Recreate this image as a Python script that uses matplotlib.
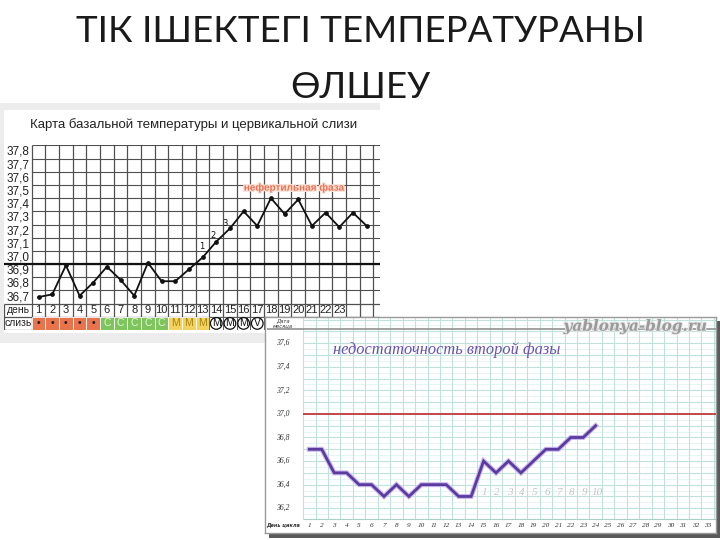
import matplotlib
matplotlib.use('Agg')
import matplotlib.pyplot as plt
import matplotlib.patheffects as pe
from matplotlib.patches import Rectangle

W, H = 720, 540

# chart 1 data (basal temperature + cervical mucus)
days1 = list(range(1, 26))
temps1 = [36.70, 36.72, 36.94, 36.71, 36.81, 36.93, 36.83, 36.71, 36.96, 36.82,
          36.82, 36.91, 37.00, 37.12, 37.22, 37.35, 37.24, 37.45, 37.33, 37.44,
          37.24, 37.34, 37.23, 37.34, 37.24]
ylabels1 = ['37,8', '37,7', '37,6', '37,5', '37,4', '37,3', '37,2', '37,1',
            '37,0', '36,9', '36,8', '36,7']
day_labels1 = [str(d) for d in range(1, 24)]
mucus_marks = ['•'] * 5 + ['С'] * 5 + ['М'] * 3 + ['M', 'M', 'M', 'V']
mucus_kind = ['b'] * 5 + ['c'] * 5 + ['m'] * 3 + ['o'] * 4

# chart 2 data (second phase insufficiency)
days2 = list(range(1, 25))
temps2 = [36.7, 36.7, 36.5, 36.5, 36.4, 36.4, 36.3, 36.4, 36.3, 36.4, 36.4, 36.4,
          36.3, 36.3, 36.6, 36.5, 36.6, 36.5, 36.6, 36.7, 36.7, 36.8, 36.8, 36.9]
ylabels2 = ['37,6', '37,4', '37,2', '37,0', '36,8', '36,6', '36,4', '36,2']
yvals2 = [37.6, 37.4, 37.2, 37.0, 36.8, 36.6, 36.4, 36.2]
phase_nums = [str(i) for i in range(1, 11)]


def box(x0, y0, x1, y1):
    return [x0 / W, 1 - y1 / H, (x1 - x0) / W, (y1 - y0) / H]


fig = plt.figure(figsize=(7.2, 5.4), dpi=100)
fig.patch.set_facecolor('white')

# slide title
title_font = ['Lato', 'Noto Sans', 'DejaVu Sans']
fig.text(360 / W, 1 - 32 / H, 'ТІК ІШЕКТЕГІ ТЕМПЕРАТУРАНЫ', ha='center', va='center',
         fontsize=26.5, color='#1a1a1a', family=title_font)
fig.text(360 / W, 1 - 87 / H, 'ӨЛШЕУ', ha='center', va='center',
         fontsize=26.5, color='#1a1a1a', family=title_font)

# ---- chart 1 image background
fig.add_artist(Rectangle((0, 1 - 343 / H), 380 / W, 240 / H, transform=fig.transFigure,
                         facecolor='#ececec', edgecolor='none', zorder=0.2))
fig.add_artist(Rectangle((4 / W, 1 - 333 / H), 376 / W, 223 / H, transform=fig.transFigure,
                         facecolor='white', edgecolor='none', zorder=0.3))
fig.text(194 / W, 1 - 125 / H, 'Карта базальной температуры и цервикальной слизи',
         ha='center', va='center', fontsize=9.5, color='#222222',
         family='Liberation Sans', zorder=3)

ax1 = fig.add_axes(box(4, 145.4, 380, 330))
ax1.set_zorder(1)
ax1.set_xlim(-1.53, 25.98)
ax1.set_ylim(36.45, 37.85)
ax1.axis('off')

gc = '#505050'
# temperature grid
for k in range(26):
    ax1.vlines(k + 0.5, 36.45, 37.85, color=gc, lw=0.9)
for j in range(15):
    yv = 36.45 + j * 0.1
    if j <= 2:
        ax1.hlines(yv, -1.53, 25.98, color=gc, lw=0.9)
    else:
        ax1.hlines(yv, 0.5, 25.98, color=gc, lw=0.8)
ax1.hlines(36.95, -1.53, 25.98, color='#111111', lw=1.6)
ax1.vlines(-1.5, 36.45, 36.65, color=gc, lw=0.9)

for i, lab in enumerate(ylabels1):
    ax1.text(-0.5, 37.8 - i * 0.1, lab, ha='center', va='center', fontsize=8.5,
             color='#222222', family='Liberation Sans')

ax1.text(-0.5, 36.6, 'день', ha='center', va='center', fontsize=7.5, color='#222222',
         family='Liberation Sans')
ax1.text(-0.5, 36.5, 'слизь', ha='center', va='center', fontsize=7.5, color='#222222',
         family='Liberation Sans')
for d, lab in zip(range(1, 24), day_labels1):
    ax1.text(d, 36.6, lab, ha='center', va='center', fontsize=8, color='#222222',
             family='Liberation Sans')

cell_col = {'b': '#e8734d', 'c': '#7dc55c', 'm': '#f4d35c', 'o': 'white'}
txt_col = {'b': '#222222', 'c': '#e8f7dd', 'm': '#a88412', 'o': '#111111'}
for d, (mark, kind) in enumerate(zip(mucus_marks, mucus_kind), start=1):
    ax1.add_patch(Rectangle((d - 0.5, 36.45), 1, 0.1, facecolor=cell_col[kind],
                            edgecolor='white' if kind != 'o' else gc, lw=0.6, zorder=2))
    if kind == 'o':
        ax1.text(d, 36.5, mark, ha='center', va='center', fontsize=7.5, color=txt_col[kind],
                 family='Liberation Sans', zorder=3,
                 bbox=dict(boxstyle='circle,pad=0.08', fc='white', ec='#111111', lw=0.9))
    else:
        ax1.text(d, 36.5, mark, ha='center', va='center', fontsize=7.5, color=txt_col[kind],
                 family='Liberation Sans', zorder=3)

ax1.plot(days1, temps1, color='#111111', lw=1.3, marker='o', ms=2.4, zorder=4)
for lab, xx, yy in zip(['1', '2', '3'], [12.96, 13.76, 14.64], [37.08, 37.17, 37.26]):
    ax1.text(xx, yy, lab, ha='center', va='center', fontsize=6, color='#111111', zorder=5)
ax1.text(19.7, 37.53, 'нефертильная фаза', ha='center', va='center', fontsize=7.2,
         color='#e9714f', fontweight='bold', family='Liberation Sans', zorder=5,
         path_effects=[pe.withStroke(linewidth=2, foreground='#fbe3da')])

# ---- chart 2
fig.add_artist(Rectangle((269 / W, 1 - 538 / H), 451 / W, 217 / H, transform=fig.transFigure,
                         facecolor='#5a5a5a', edgecolor='none', zorder=1.5))
ax2 = fig.add_axes(box(265, 317, 716, 533))
ax2.set_zorder(2)
ax2.set_xlim(-2.56, 33.67)
ax2.set_ylim(35.99, 37.822)
ax2.set_facecolor('white')
ax2.set_xticks([])
ax2.set_yticks([])
for s in ax2.spines.values():
    s.set_color('#9a9a9a')
    s.set_linewidth(1.0)

g2 = '#bfe3dc'
g2m = '#e6f3f1'
for j in range(34):
    yv = 36.15 + j * 0.05
    if yv > 37.82:
        break
    major = abs((yv * 10) - round(yv * 10)) < 1e-6
    ax2.hlines(yv, 0.5, 33.67, color=g2 if major else g2m, lw=0.8 if major else 0.6, zorder=1)
for k in range(34):
    ax2.vlines(k + 0.5, 36.11, 37.822, color=g2, lw=0.8, zorder=1)
ax2.hlines(36.11, 0.5, 33.67, color='#a9cfc7', lw=0.8, zorder=1)
ax2.hlines(37.72, -2.4, 33.67, color='#9a9a9a', lw=1.3, zorder=2)
ax2.hlines(37.0, 0.5, 33.67, color='#c43a3a', lw=1.3, zorder=3)

for lab, yv in zip(ylabels2, yvals2):
    ax2.text(-1.1, yv, lab, ha='center', va='center', fontsize=5.5, style='italic',
             color='#333333', family='Liberation Serif')
ax2.text(-1.1, 37.77, 'Дата\nмесяца', ha='center', va='center', fontsize=3.8,
         style='italic', color='#333333', linespacing=0.9)
ax2.text(-1.1, 36.05, 'День цикла', ha='center', va='center', fontsize=3.6,
         style='italic', color='#333333', fontweight='bold')
for d in range(1, 34):
    ax2.text(d, 36.05, str(d), ha='center', va='center', fontsize=5.2, style='italic',
             color='#333333', family='Liberation Serif')

for d, lab in zip(range(15, 25), phase_nums):
    ax2.text(d + 0.1, 36.33, lab, ha='center', va='center', fontsize=8, style='italic',
             color='#c4c4c4', family='Liberation Serif', zorder=2)

ax2.plot(days2, temps2, color='#5b3c9e', lw=2.0, zorder=4, solid_joinstyle='miter',
         path_effects=[pe.Stroke(linewidth=3.6, foreground='#c9b6ef'), pe.Normal()])

ax2.text(12.06, 37.54, 'недостаточность второй фазы', ha='center', va='center',
         fontsize=11.8, style='italic', color='#6a50b0', family='Liberation Serif', zorder=5)
ax2.text(27.16, 37.74, 'yablonya-blog.ru', ha='center', va='center', fontsize=11,
         style='italic', fontweight='bold', color='#9a9a9a', family='DejaVu Serif', zorder=5,
         path_effects=[pe.withStroke(linewidth=1.5, foreground='#e6e6e6')])

fig.savefig('out.png', dpi=100, facecolor='white')
